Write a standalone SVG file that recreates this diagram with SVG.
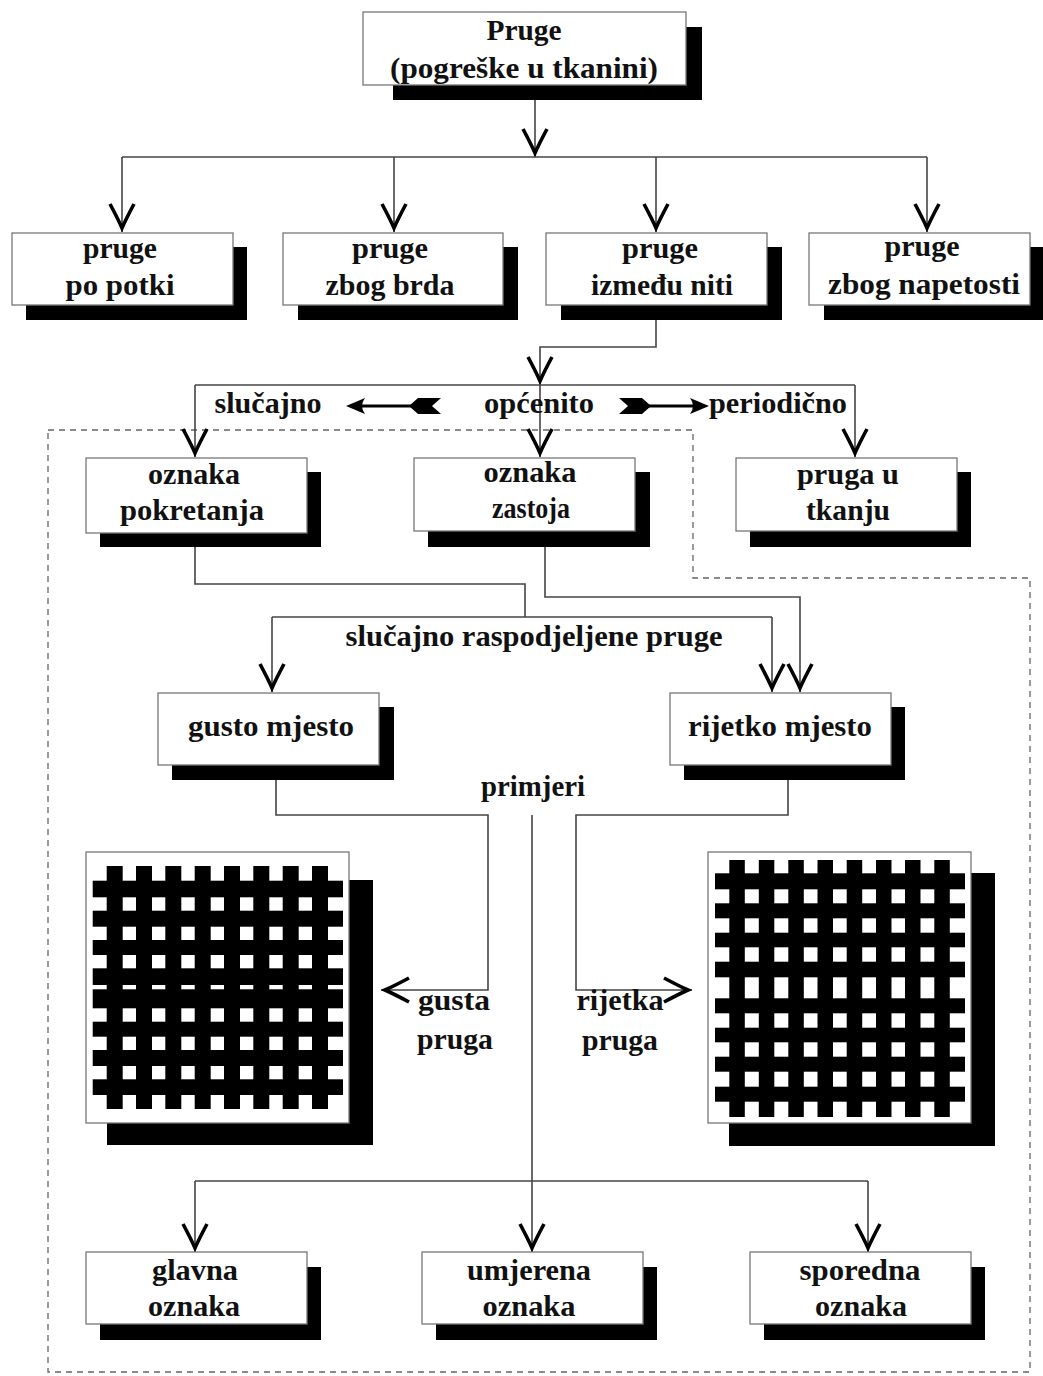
<svg xmlns="http://www.w3.org/2000/svg" width="1043" height="1376" viewBox="0 0 1043 1376">
<style>
.bg{fill:#fff}
.shadow{fill:#000}
.box{fill:#fff;stroke:#777;stroke-width:1.3}
.t{font-family:"Liberation Serif",serif;font-weight:bold;font-size:29px;text-anchor:middle;fill:#111}
.c{fill:none;stroke:#444;stroke-width:1.6}
.dash{fill:none;stroke:#666;stroke-width:1.3;stroke-dasharray:6 5}
.blk{fill:#000}
</style>
<defs>
<marker id="chev" viewBox="-30 -15 31 30" refX="0" refY="0" markerWidth="31" markerHeight="30" markerUnits="userSpaceOnUse" orient="auto">
<path d="M-28,-12 Q-13,-4 -4,0 Q-13,4 -28,12" fill="none" stroke="#000" stroke-width="3.6" stroke-linejoin="miter" stroke-miterlimit="6"/>
</marker>
</defs>
<rect class="bg" x="0" y="0" width="1043" height="1376"/>

<path class="dash" d="M48,430 H693 V578 H1030 V1372 H48 Z"/>

<g id="connectors">
<path class="c" d="M535,100 V157" marker-end="url(#chev)"/>
<path class="c" d="M122,157 H927"/>
<path class="c" d="M122,157 V232" marker-end="url(#chev)"/>
<path class="c" d="M394,157 V232" marker-end="url(#chev)"/>
<path class="c" d="M656,157 V232" marker-end="url(#chev)"/>
<path class="c" d="M927,157 V232" marker-end="url(#chev)"/>
<path class="c" d="M656,320 V347 H540 V385" marker-end="url(#chev)"/>
<path class="c" d="M195,385 H855"/>
<path class="c" d="M195,385 V457" marker-end="url(#chev)"/>
<path class="c" d="M540,385 V457" marker-end="url(#chev)"/>
<path class="c" d="M855,385 V457" marker-end="url(#chev)"/>
<path class="c" d="M195,547 V584 H525 V617"/>
<path class="c" d="M272,617 H772"/>
<path class="c" d="M272,617 V692" marker-end="url(#chev)"/>
<path class="c" d="M772,617 V692" marker-end="url(#chev)"/>
<path class="c" d="M545,547 V597 H800 V692" marker-end="url(#chev)"/>
<path class="c" d="M276,780 V815 H488 V990 H381" marker-end="url(#chev)"/>
<path class="c" d="M788,780 V815 H576 V990 H692" marker-end="url(#chev)"/>
<path class="c" d="M532,815 V1252" marker-end="url(#chev)"/>
<path class="c" d="M195,1181 H868"/>
<path class="c" d="M195,1181 V1252" marker-end="url(#chev)"/>
<path class="c" d="M868,1181 V1252" marker-end="url(#chev)"/>
<g id="dir-arrows">
<path class="blk" d="M346,406 L365,398 Q359,406 365,414 Z"/>
<rect class="blk" x="358" y="404.5" width="56" height="3"/>
<polygon class="blk" points="409,406 418,398 441,398 432,406 441,414 418,414"/>
<polygon class="blk" points="619,398 642,398 651,406 642,414 619,414 628,406"/>
<rect class="blk" x="646" y="404.5" width="52" height="3"/>
<path class="blk" d="M709,406 L690,398 Q696,406 690,414 Z"/>
</g>
</g>

<g id="n-pruge">
<rect class="shadow" x="393" y="27" width="309" height="73"/>
<rect class="box" x="363" y="12" width="323" height="73"/>
<text class="t" x="524" y="40" textLength="75" lengthAdjust="spacingAndGlyphs">Pruge</text>
<text class="t" x="524" y="78" textLength="268" lengthAdjust="spacingAndGlyphs">(pogreške u tkanini)</text>
</g>

<g id="n-potki">
<rect class="shadow" x="26" y="247" width="221" height="73"/>
<rect class="box" x="12" y="233" width="221" height="72"/>
<text class="t" x="120" y="258" textLength="74" lengthAdjust="spacingAndGlyphs">pruge</text>
<text class="t" x="120" y="295" textLength="109" lengthAdjust="spacingAndGlyphs">po potki</text>
</g>
<g id="n-brda">
<rect class="shadow" x="298" y="247" width="220" height="73"/>
<rect class="box" x="283" y="233" width="220" height="72"/>
<text class="t" x="390" y="258" textLength="76" lengthAdjust="spacingAndGlyphs">pruge</text>
<text class="t" x="390" y="295" textLength="129" lengthAdjust="spacingAndGlyphs">zbog brda</text>
</g>
<g id="n-niti">
<rect class="shadow" x="561" y="247" width="221" height="73"/>
<rect class="box" x="546" y="233" width="221" height="72"/>
<text class="t" x="660" y="258" textLength="76" lengthAdjust="spacingAndGlyphs">pruge</text>
<text class="t" x="662" y="295" textLength="142" lengthAdjust="spacingAndGlyphs">između niti</text>
</g>
<g id="n-napetosti">
<rect class="shadow" x="824" y="247" width="219" height="73"/>
<rect class="box" x="809" y="233" width="221" height="72"/>
<text class="t" x="922" y="256" textLength="75" lengthAdjust="spacingAndGlyphs">pruge</text>
<text class="t" x="924" y="294" textLength="192" lengthAdjust="spacingAndGlyphs">zbog napetosti</text>
</g>

<g id="labels-split">
<text class="t" x="268" y="413" textLength="107" lengthAdjust="spacingAndGlyphs">slučajno</text>
<text class="t" x="539" y="413" textLength="110" lengthAdjust="spacingAndGlyphs">općenito</text>
<text class="t" x="778" y="413" textLength="138" lengthAdjust="spacingAndGlyphs">periodično</text>
</g>

<g id="n-pokretanja">
<rect class="shadow" x="100" y="472" width="221" height="75"/>
<rect class="box" x="86" y="458" width="221" height="75"/>
<text class="t" x="194" y="484" textLength="92" lengthAdjust="spacingAndGlyphs">oznaka</text>
<text class="t" x="192" y="520" textLength="144" lengthAdjust="spacingAndGlyphs">pokretanja</text>
</g>
<g id="n-zastoja">
<rect class="shadow" x="428" y="472" width="222" height="75"/>
<rect class="box" x="414" y="458" width="221" height="73"/>
<text class="t" x="530" y="482" textLength="93" lengthAdjust="spacingAndGlyphs">oznaka</text>
<text class="t" x="531" y="518" textLength="78" lengthAdjust="spacingAndGlyphs">zastoja</text>
</g>
<g id="n-tkanju">
<rect class="shadow" x="750" y="472" width="221" height="75"/>
<rect class="box" x="736" y="458" width="221" height="73"/>
<text class="t" x="848" y="484" textLength="102" lengthAdjust="spacingAndGlyphs">pruga u</text>
<text class="t" x="848" y="520" textLength="84" lengthAdjust="spacingAndGlyphs">tkanju</text>
</g>

<text class="t" x="534" y="646" textLength="377" lengthAdjust="spacingAndGlyphs">slučajno raspodjeljene pruge</text>

<g id="n-gusto">
<rect class="shadow" x="172" y="707" width="222" height="73"/>
<rect class="box" x="158" y="693" width="221" height="72"/>
<text class="t" x="271" y="736" textLength="166" lengthAdjust="spacingAndGlyphs">gusto mjesto</text>
</g>
<g id="n-rijetko">
<rect class="shadow" x="684" y="707" width="221" height="73"/>
<rect class="box" x="670" y="693" width="221" height="72"/>
<text class="t" x="780" y="736" textLength="184" lengthAdjust="spacingAndGlyphs">rijetko mjesto</text>
</g>

<text class="t" x="533" y="796" textLength="104" lengthAdjust="spacingAndGlyphs">primjeri</text>

<g id="weave-gusta">
<rect class="shadow" x="107" y="880" width="266" height="265"/>
<rect class="box" x="86" y="852" width="263" height="271"/>
<g class="blk">
<rect x="106.7" y="866" width="16" height="243"/>
<rect x="136" y="866" width="16" height="243"/>
<rect x="165.3" y="866" width="16" height="243"/>
<rect x="194.7" y="866" width="16" height="243"/>
<rect x="224" y="866" width="16" height="243"/>
<rect x="253.3" y="866" width="16" height="243"/>
<rect x="282.7" y="866" width="16" height="243"/>
<rect x="312" y="866" width="16" height="243"/>
<rect x="92.7" y="880.7" width="250.3" height="16.6"/>
<rect x="92.7" y="910.7" width="250.3" height="16"/>
<rect x="92.7" y="940" width="250.3" height="15"/>
<rect x="92.7" y="968.3" width="250.3" height="16.7"/>
<rect x="92.7" y="989.3" width="250.3" height="19"/>
<rect x="92.7" y="1021.7" width="250.3" height="15"/>
<rect x="92.7" y="1050" width="250.3" height="16"/>
<rect x="92.7" y="1079.3" width="250.3" height="15.7"/>
</g>
</g>
<g id="weave-rijetka">
<rect class="shadow" x="729" y="873" width="266" height="273"/>
<rect class="box" x="708" y="852" width="263" height="271"/>
<g class="blk">
<rect x="729.3" y="860" width="15.5" height="257"/>
<rect x="758.8" y="860" width="15.5" height="257"/>
<rect x="788.3" y="860" width="15.5" height="257"/>
<rect x="817.5" y="860" width="15.5" height="257"/>
<rect x="846.7" y="860" width="15.5" height="257"/>
<rect x="876" y="860" width="15.5" height="257"/>
<rect x="905" y="860" width="15.5" height="257"/>
<rect x="934.3" y="860" width="15.5" height="257"/>
<rect x="715" y="873.3" width="250" height="16"/>
<rect x="715" y="903.3" width="250" height="15"/>
<rect x="715" y="932.7" width="250" height="14.6"/>
<rect x="715" y="961.7" width="250" height="15.6"/>
<rect x="715" y="998.3" width="250" height="15"/>
<rect x="715" y="1027.7" width="250" height="14.6"/>
<rect x="715" y="1056.7" width="250" height="15"/>
<rect x="715" y="1086.7" width="250" height="15"/>
</g>
</g>

<g id="labels-pruga">
<text class="t" x="454" y="1010" textLength="72" lengthAdjust="spacingAndGlyphs">gusta</text>
<text class="t" x="455" y="1049" textLength="76" lengthAdjust="spacingAndGlyphs">pruga</text>
<text class="t" x="620" y="1010" textLength="87" lengthAdjust="spacingAndGlyphs">rijetka</text>
<text class="t" x="620" y="1050" textLength="76" lengthAdjust="spacingAndGlyphs">pruga</text>
</g>

<g id="n-glavna">
<rect class="shadow" x="100" y="1267" width="221" height="73"/>
<rect class="box" x="86" y="1252" width="221" height="72"/>
<text class="t" x="195" y="1280" textLength="86" lengthAdjust="spacingAndGlyphs">glavna</text>
<text class="t" x="194" y="1316" textLength="92" lengthAdjust="spacingAndGlyphs">oznaka</text>
</g>
<g id="n-umjerena">
<rect class="shadow" x="436" y="1267" width="221" height="73"/>
<rect class="box" x="422" y="1252" width="221" height="72"/>
<text class="t" x="529" y="1280" textLength="124" lengthAdjust="spacingAndGlyphs">umjerena</text>
<text class="t" x="529" y="1316" textLength="93" lengthAdjust="spacingAndGlyphs">oznaka</text>
</g>
<g id="n-sporedna">
<rect class="shadow" x="764" y="1267" width="221" height="73"/>
<rect class="box" x="750" y="1252" width="221" height="72"/>
<text class="t" x="860" y="1280" textLength="121" lengthAdjust="spacingAndGlyphs">sporedna</text>
<text class="t" x="861" y="1316" textLength="92" lengthAdjust="spacingAndGlyphs">oznaka</text>
</g>
</svg>
